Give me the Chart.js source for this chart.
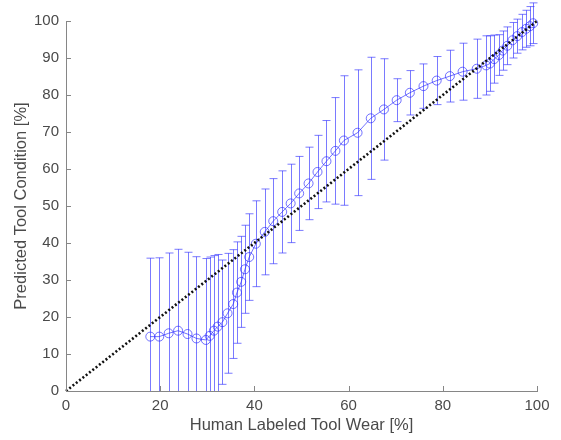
<!DOCTYPE html>
<html>
<head>
<meta charset="utf-8">
<script src="https://cdn.jsdelivr.net/npm/chart.js@4"></script>
<style>
  html, body { margin: 0; padding: 0; background: #fff; }
  #wrap { width: 561px; height: 440px; }
</style>
</head>
<body>
<div id="wrap"><canvas id="grafico" width="561" height="440"></canvas></div>
<script>
// valores
const xVals = [17.9, 19.8, 21.8, 23.8, 25.8, 27.7, 29.7, 30.5, 31.4, 32.2, 33.2, 34.3, 35.5, 36.3, 37.2, 38.0, 38.9,
  40.3, 42.2, 44.0, 45.9, 47.7, 49.5, 51.5, 53.4, 55.3, 57.2, 59.0, 61.9, 64.7, 67.5, 70.2, 73.0, 75.9, 78.7, 81.5, 84.2,
  87.2, 89.2, 90.0, 90.9, 91.9, 92.7, 93.7, 94.8, 95.8, 96.8, 97.7, 98.5, 99.2];
const yVals = [14.7, 14.7, 15.6, 16.3, 15.4, 14.2, 13.8, 14.9, 16.3, 17.4, 18.6, 21.0, 23.5, 26.6, 29.5, 32.9, 36.2,
  39.8, 43.0, 45.9, 48.4, 50.7, 53.4, 56.1, 59.2, 62.1, 64.9, 67.7, 69.8, 73.7, 76.1, 78.6, 80.6, 82.4, 83.9, 85.1, 86.3,
  87.1, 88.0, 88.5, 89.7, 90.8, 92.0, 93.3, 94.8, 95.9, 97.0, 97.9, 98.6, 99.4];
const errVals = [21.2, 21.3, 21.7, 22.0, 22.1, 22.1, 22.0, 21.3, 20.3, 19.5, 16.8, 16.2, 14.7, 13.7, 12.3, 11.9, 11.7,
  11.6, 11.6, 11.5, 11.1, 10.6, 10.0, 9.8, 9.9, 11.0, 14.4, 17.5, 17.0, 16.5, 13.7, 5.8, 6.0, 6.0, 6.5, 7.0, 7.7,
  8.0, 8.0, 7.5, 6.5, 5.5, 5.3, 5.1, 4.8, 4.6, 4.8, 5.0, 5.3, 5.5];
const refX = [0, 100];
const refY = [0, 100];
const xTicks = [0, 20, 40, 60, 80, 100];
const yTicks = [0, 10, 20, 30, 40, 50, 60, 70, 80, 90, 100];

const azul = 'rgba(40,40,255,0.65)';
const gris = '#868686';

// barras de error (recortadas abajo en 0) y marcas de eje hacia dentro
const barrasError = {
  id: 'barrasError',
  beforeDatasetsDraw(chart) {
    const { ctx, chartArea, scales: { x, y } } = chart;
    ctx.save();
    ctx.beginPath();
    ctx.rect(chartArea.left, 0, chartArea.right - chartArea.left + 10, y.getPixelForValue(0));
    ctx.clip();
    ctx.strokeStyle = 'rgba(50,50,255,0.65)';
    ctx.lineWidth = 1;
    xVals.forEach((xv, i) => {
      const px = Math.round(x.getPixelForValue(xv)) + 0.5;
      const top = y.getPixelForValue(yVals[i] + errVals[i]);
      const bot = y.getPixelForValue(yVals[i] - errVals[i]);
      ctx.beginPath();
      ctx.moveTo(px, top); ctx.lineTo(px, bot);
      ctx.moveTo(px - 4, top); ctx.lineTo(px + 4, top);
      ctx.moveTo(px - 4, bot); ctx.lineTo(px + 4, bot);
      ctx.stroke();
    });
    ctx.restore();
  },
  afterDraw(chart) {
    const { ctx, chartArea, scales: { x, y } } = chart;
    ctx.save();
    ctx.strokeStyle = gris;
    ctx.lineWidth = 1;
    ctx.beginPath();
    xTicks.forEach(v => {
      const px = Math.round(x.getPixelForValue(v)) + 0.5;
      ctx.moveTo(px, chartArea.bottom); ctx.lineTo(px, chartArea.bottom - 5);
    });
    yTicks.forEach(v => {
      const py = Math.round(y.getPixelForValue(v)) + 0.5;
      ctx.moveTo(chartArea.left, py); ctx.lineTo(chartArea.left + 5, py);
    });
    ctx.stroke();
    ctx.restore();
  }
};

const familia = '"Liberation Sans", Arial, sans-serif';
const fuente = { family: familia, size: 15 };
const fuenteTitulo = { family: familia, size: 16.5 };

new Chart(document.getElementById('grafico').getContext('2d'), {
  type: 'line',
  data: {
    datasets: [
      {
        data: refX.map((v, i) => ({ x: v, y: refY[i] })),
        borderColor: '#111',
        borderWidth: 2.6,
        borderDash: [2, 2.2],
        pointRadius: 0,
        clip: false
      },
      {
        data: xVals.map((v, i) => ({ x: v, y: yVals[i] })),
        borderColor: azul,
        borderWidth: 1,
        pointRadius: 4.5,
        pointBorderColor: azul,
        pointBackgroundColor: 'rgba(0,0,0,0)',
        pointBorderWidth: 1,
        clip: false
      }
    ]
  },
  options: {
    responsive: false,
    animation: false,
    plugins: { legend: { display: false }, tooltip: { enabled: false } },
    layout: { padding: { top: 21, right: 24, left: 0, bottom: 0 } },
    scales: {
      x: {
        type: 'linear', min: 0, max: 100,
        afterFit: s => { s.height = 49; },
        afterBuildTicks: s => { s.ticks = xTicks.map(v => ({ value: v })); },
        ticks: { color: '#4a4a4a', font: fuente, padding: 6, maxRotation: 0 },
        grid: { drawOnChartArea: false, drawTicks: false },
        border: { color: gris, width: 1 },
        title: { display: true, text: 'Human Labeled Tool Wear [%]', color: '#4a4a4a',
          font: fuenteTitulo, padding: { top: 0, bottom: 5 } }
      },
      y: {
        type: 'linear', min: 0, max: 100,
        afterFit: s => { s.width = 66; },
        afterBuildTicks: s => { s.ticks = yTicks.map(v => ({ value: v })); },
        ticks: { color: '#4a4a4a', font: fuente, padding: 7 },
        grid: { drawOnChartArea: false, drawTicks: false },
        border: { color: gris, width: 1 },
        title: { display: true, text: 'Predicted Tool Condition [%]', color: '#4a4a4a',
          font: fuenteTitulo, padding: { top: 12, bottom: 0 } }
      }
    }
  },
  plugins: [barrasError]
});
</script>
</body>
</html>
